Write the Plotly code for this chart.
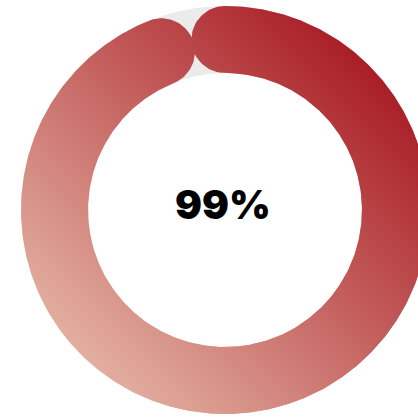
import numpy as np
import plotly.graph_objects as go

# Gauge value and its label
VALUE = 99
LABEL = f"{VALUE}%"

# Ring geometry (pixel units, ring centre at the origin)
R_OUT = 204.0
R_IN = 137.0
SCALE_SPAN_DEG = 341.5   # sweep reserved for 0..100, leaves room for the rounded caps

TRACK_COLOR = "#ebebeb"
GRAD_LIGHT = "rgb(238,204,184)"
GRAD_DARK = "rgb(158,0,14)"

r_mid = (R_OUT + R_IN) / 2
half_w = (R_OUT - R_IN) / 2


def polar(r, ang):
    """Point at clockwise angle `ang` (radians, 0 = top) and radius r."""
    return r * np.sin(ang), r * np.cos(ang)


# Background track: keyhole ring (outer circle, then inner circle reversed)
a = np.linspace(0, 2 * np.pi, 721)
ox, oy = polar(R_OUT, a)
ix, iy = polar(R_IN, a[::-1])
track_x = np.concatenate([ox, ix, [ox[0]]])
track_y = np.concatenate([oy, iy, [oy[0]]])

# Value arc with rounded ends
end = np.radians(VALUE / 100 * SCALE_SPAN_DEG)
arc = np.linspace(0, end, 600)
psi = np.linspace(0, np.pi, 60)

outer_x, outer_y = polar(R_OUT, arc)
inner_x, inner_y = polar(R_IN, arc[::-1])

# end cap: from outer edge, bulging forward, to inner edge
cex, cey = polar(r_mid, end)
rh = np.array([np.sin(end), np.cos(end)])
th = np.array([np.cos(end), -np.sin(end)])
ecap_x = cex + half_w * (np.cos(psi) * rh[0] + np.sin(psi) * th[0])
ecap_y = cey + half_w * (np.cos(psi) * rh[1] + np.sin(psi) * th[1])

# start cap: from inner edge, bulging backward, to outer edge
csx, csy = polar(r_mid, 0.0)
rs = np.array([0.0, 1.0])
ts = np.array([1.0, 0.0])
psi_b = psi[::-1]
scap_x = csx + half_w * (np.cos(psi_b) * rs[0] - np.sin(psi_b) * ts[0])
scap_y = csy + half_w * (np.cos(psi_b) * rs[1] - np.sin(psi_b) * ts[1])

bar_x = np.concatenate([outer_x, ecap_x, inner_x, scap_x])
bar_y = np.concatenate([outer_y, ecap_y, inner_y, scap_y])

fig = go.Figure()

fig.add_trace(go.Scatter(
    x=track_x, y=track_y, mode="lines", fill="toself",
    fillcolor=TRACK_COLOR, line=dict(width=0), hoverinfo="skip",
))

# Diagonal gradient = horizontal gradient blended half-and-half with a vertical one
scale = [[0, GRAD_LIGHT], [1, GRAD_DARK]]
fig.add_trace(go.Scatter(
    x=bar_x, y=bar_y, mode="lines", fill="toself", line=dict(width=0),
    fillgradient=dict(type="horizontal", colorscale=scale, start=-R_OUT, stop=R_OUT),
    hoverinfo="skip",
))
fig.add_trace(go.Scatter(
    x=bar_x, y=bar_y, mode="lines", fill="toself", line=dict(width=0),
    fillgradient=dict(type="vertical", colorscale=scale, start=-R_OUT, stop=R_OUT),
    opacity=0.5, hoverinfo="skip",
))

fig.add_annotation(
    x=-2.5, y=5.5, text=LABEL, showarrow=False,
    font=dict(family="Inter", size=40, color="#000000", weight=900),
    xanchor="center", yanchor="middle",
)

fig.update_layout(
    width=418, height=417, autosize=False,
    margin=dict(l=0, r=0, t=0, b=0),
    paper_bgcolor="white", plot_bgcolor="white",
    showlegend=False,
    xaxis=dict(range=[-225, 193], visible=False, fixedrange=True),
    yaxis=dict(range=[-207, 210], visible=False, fixedrange=True),
)

fig.write_html("out.html")
